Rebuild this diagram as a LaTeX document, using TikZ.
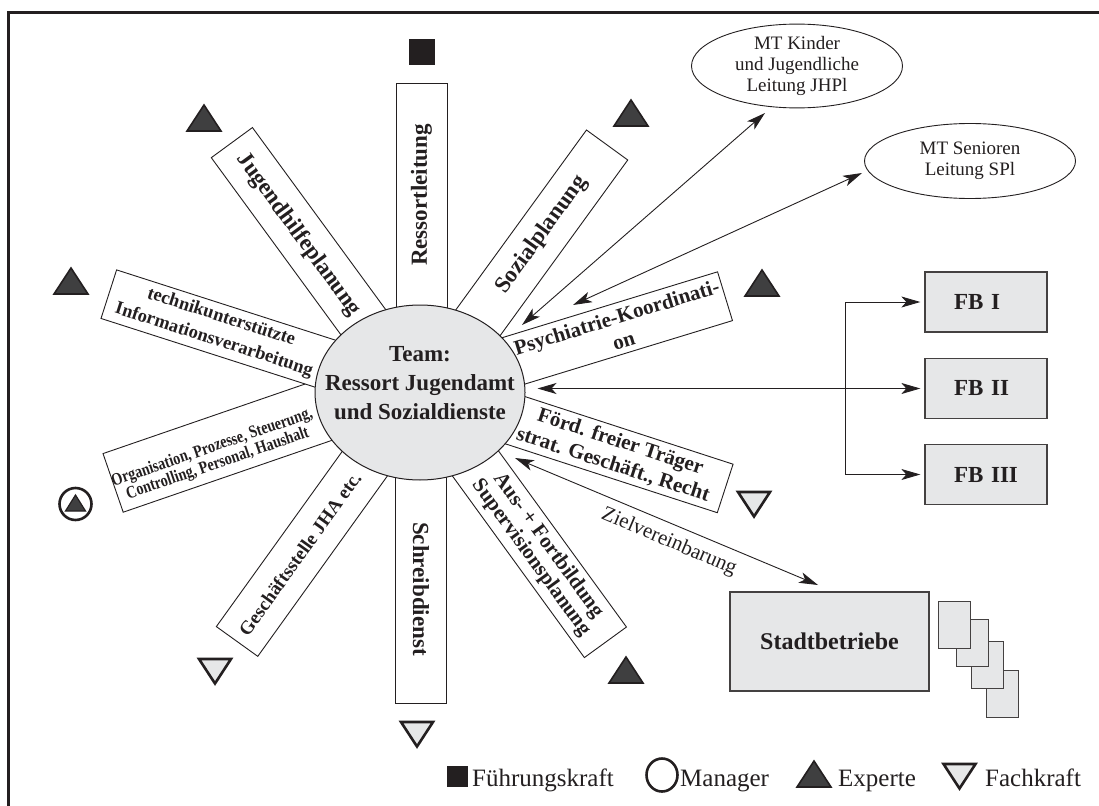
\documentclass[tikz,border=0pt]{standalone}
\usepackage{fontspec}
\setmainfont{Liberation Serif}
\usetikzlibrary{arrows.meta,calc,shapes.geometric}
\definecolor{ink}{HTML}{231F20}
\definecolor{lgray}{HTML}{E6E7E8}
\definecolor{dgray}{HTML}{3F3F40}
\tikzset{
 expt/.pic={\draw[line width=1.6pt,draw=ink,fill=dgray] (-17,13) -- (17,13) -- (0,-13) -- cycle;},
 fach/.pic={\draw[line width=2.6pt,draw=ink,fill=lgray] (-16,-12) -- (16,-12) -- (0,12.5) -- cycle;},
}
\begin{document}
\begin{tikzpicture}[x=1pt,y=-1pt,
 spoke/.style={draw=ink,line width=0.9pt,fill=white,rectangle,inner sep=0pt},
 sptext/.style={text=ink,font=\bfseries\fontsize{23}{26}\selectfont,align=center,inner sep=0pt},
 sptextm/.style={text=ink,font=\bfseries\fontsize{21}{24}\selectfont,align=center,inner sep=0pt},
 greybox/.style={draw=ink!85,line width=1.3pt,fill=lgray,rectangle,inner sep=0pt},
 fbbox/.style={greybox,minimum height=60pt,text width=64pt,inner xsep=29pt,align=left,text=ink,font=\bfseries\fontsize{23}{26}\selectfont},
 mt/.style={ellipse,draw=ink,line width=0.9pt,fill=white,inner sep=0pt,align=center,text=ink,font=\fontsize{19}{21}\selectfont},
 dbl/.style={draw=ink,line width=0.9pt,{Stealth[length=19pt,width=11pt,inset=5pt]}-{Stealth[length=19pt,width=11pt,inset=5pt]}},
 legtext/.style={text=ink,font=\fontsize{25}{28}\selectfont,inner sep=0pt,anchor=base west},
]
\path[use as bounding box] (0,0) rectangle (1099,805);
\clip (0,0) rectangle (1099,805);
\draw[ink,line width=3pt] (8.5,12.5) rectangle (1130,840);

% spokes
\node[spoke,minimum width=51pt,minimum height=309pt] (ress) at (421.5,237.5) {};
\node[spoke,minimum width=51pt,minimum height=311pt] (schr) at (421,547.5) {};
\node[spoke,minimum width=312pt,minimum height=51pt,rotate=-53.8] (jhp) at (324,268.5) {};
\node[spoke,minimum width=310pt,minimum height=51pt,rotate=54] (soz) at (516,270.4) {};
\node[spoke,minimum width=320pt,minimum height=51pt,rotate=17] (psy) at (572,343) {};
\node[spoke,minimum width=320pt,minimum height=51pt,rotate=-18] (foerd) at (573,439) {};
\node[spoke,minimum width=311pt,minimum height=52pt,rotate=-54] (aus) at (514,516.5) {};
\node[spoke,minimum width=310pt,minimum height=51pt,rotate=54.3] (gst) at (327.5,515.6) {};
\node[spoke,minimum width=320pt,minimum height=62pt,rotate=19] (org) at (264.4,430.8) {};
\node[spoke,minimum width=326pt,minimum height=51pt,rotate=-17.8] (tech) at (264,344) {};

% spoke texts
\node[sptext,rotate=90] (resst) at (421.5,195) {Ressortleitung};
\node[sptext,rotate=-90] (schrt) at (421,589) {Schreibdienst};
\node[sptext,rotate=-53.8] (jhpt) at (298.5,234.5) {Jugendhilfeplanung};
\node[sptext,rotate=54] (sozt) at (541.7,234.8) {Sozialplanung};
\node[sptextm,rotate=17] (psyt) at (620,328.5) {Psychiatrie-Koordinati-\\on};
\node[sptextm,rotate=-18] (foerdt) at (616.7,453.5) {Förd. freier Träger\\strat. Geschäft., Recht};
\node[sptextm,rotate=-54,font=\bfseries\fontsize{21}{21}\selectfont] (aust) at (539.4,551.8) {Aus- + Fortbildung\\Supervisionsplanung};
\node[sptext,rotate=54.3,font=\bfseries\fontsize{19}{22}\selectfont] (gstt) at (300,553.8) {Geschäftsstelle JHA etc.};
\node[sptext,rotate=19,font=\bfseries\fontsize{17.5}{17}\selectfont] (orgt) at (215,456) {\scalebox{0.81}[1]{Organisation, Prozesse, Steuerung,}\\\scalebox{0.81}[1]{Controlling, Personal, Haushalt}};
\node[sptext,rotate=-17.8,font=\bfseries\fontsize{18.5}{24}\selectfont] (techt) at (217.5,328.9) {technikunterstützte\\Informationsverarbeitung};

% centre
\node[ellipse,draw=ink,line width=1pt,fill=lgray,minimum width=210pt,minimum height=175pt,inner sep=0pt] (team) at (420,392.5) {};
\node[sptext,font=\bfseries\fontsize{23}{29}\selectfont] (teamt) at (420,383) {Team:\\Ressort Jugendamt\\und Sozialdienste};

% markers
\node[fill=ink,minimum size=26pt,inner sep=0pt] (fk) at (422,52) {};
\pic at (204,118) {expt};
\pic at (631,113) {expt};
\pic at (762,283) {expt};
\pic at (71,281) {expt};
\pic at (626,670) {expt};
\pic at (754,504) {fach};
\pic at (417,734) {fach};
\pic at (215,671) {fach};
\node[circle,draw=ink,line width=2.6pt,minimum size=32pt,inner sep=0pt] (mgr) at (75.5,504) {};
\draw[line width=1.2pt,draw=ink,fill=dgray] (65.5,511) -- (85.5,511) -- (75.5,495) -- cycle;

% MT ellipses
\node[mt,minimum width=211pt,minimum height=76pt] (mtk) at (797,66) {MT Kinder\\und Jugendliche\\Leitung JHPl};
\node[mt,minimum width=211pt,minimum height=75pt] (mts) at (970,161) {MT Senioren\\Leitung SPl};

% FB boxes
\node[fbbox] (fb1) at (986,302) {FB I};
\node[fbbox] (fb2) at (986,388.5) {FB II};
\node[fbbox] (fb3) at (986,474.5) {FB III};

% Stadtbetriebe
\node[greybox,minimum width=199pt,minimum height=99pt,text=ink,font=\bfseries\fontsize{24}{26}\selectfont] (stadt) at (829.5,641.5) {Stadtbetriebe};
\node[greybox,line width=1pt,minimum width=32pt,minimum height=47pt] (p4) at (1002,693.5) {};
\node[greybox,line width=1pt,minimum width=32pt,minimum height=47pt] (p3) at (987,665) {};
\node[greybox,line width=1pt,minimum width=32pt,minimum height=47pt] (p2) at (972,642.5) {};
\node[greybox,line width=1pt,minimum width=32pt,minimum height=47pt] (p1) at (954,625) {};

% connectors
\coordinate (k1) at (522,325);
\coordinate (k2) at (765,113);
\draw[dbl] (k1) -- (k2);
\coordinate (s1) at (573,305);
\coordinate (s2) at (862,173);
\draw[dbl] (s1) -- (s2);
\draw[dbl,shorten <=12pt,shorten >=4pt] (team.east |- fb2.west) -- (fb2.west);
\coordinate (bx) at (845,0);
\draw[dbl,shorten <=4pt,shorten >=4pt] (fb1.west) -- (fb1.west -| bx) -- (fb3.west -| bx) -- (fb3.west);
\coordinate (z1) at (515,458);
\coordinate (z2) at (818,585);
\draw[dbl] (z1) -- (z2);
\node[rotate=-23,text=ink,font=\fontsize{21}{22}\selectfont,inner sep=0pt] (zv) at (669,542) {Zielvereinbarung};

% legend
\node[fill=ink,minimum size=21pt,inner sep=0pt] (lfk) at (457.5,776.5) {};
\node[legtext] (lfkt) at (472,786) {Führungskraft};
\node[ellipse,draw=ink,line width=2.6pt,minimum width=31pt,minimum height=33pt,inner sep=0pt] (lmgr) at (662,775) {};
\node[legtext] (lmgrt) at (680,786) {Manager};
\pic at (814,774) {expt};
\node[legtext] (lexpt) at (838,786) {Experte};
\pic at (959.5,776) {fach};
\node[legtext] (lfacht) at (985,786) {Fachkraft};
\end{tikzpicture}
\end{document}
